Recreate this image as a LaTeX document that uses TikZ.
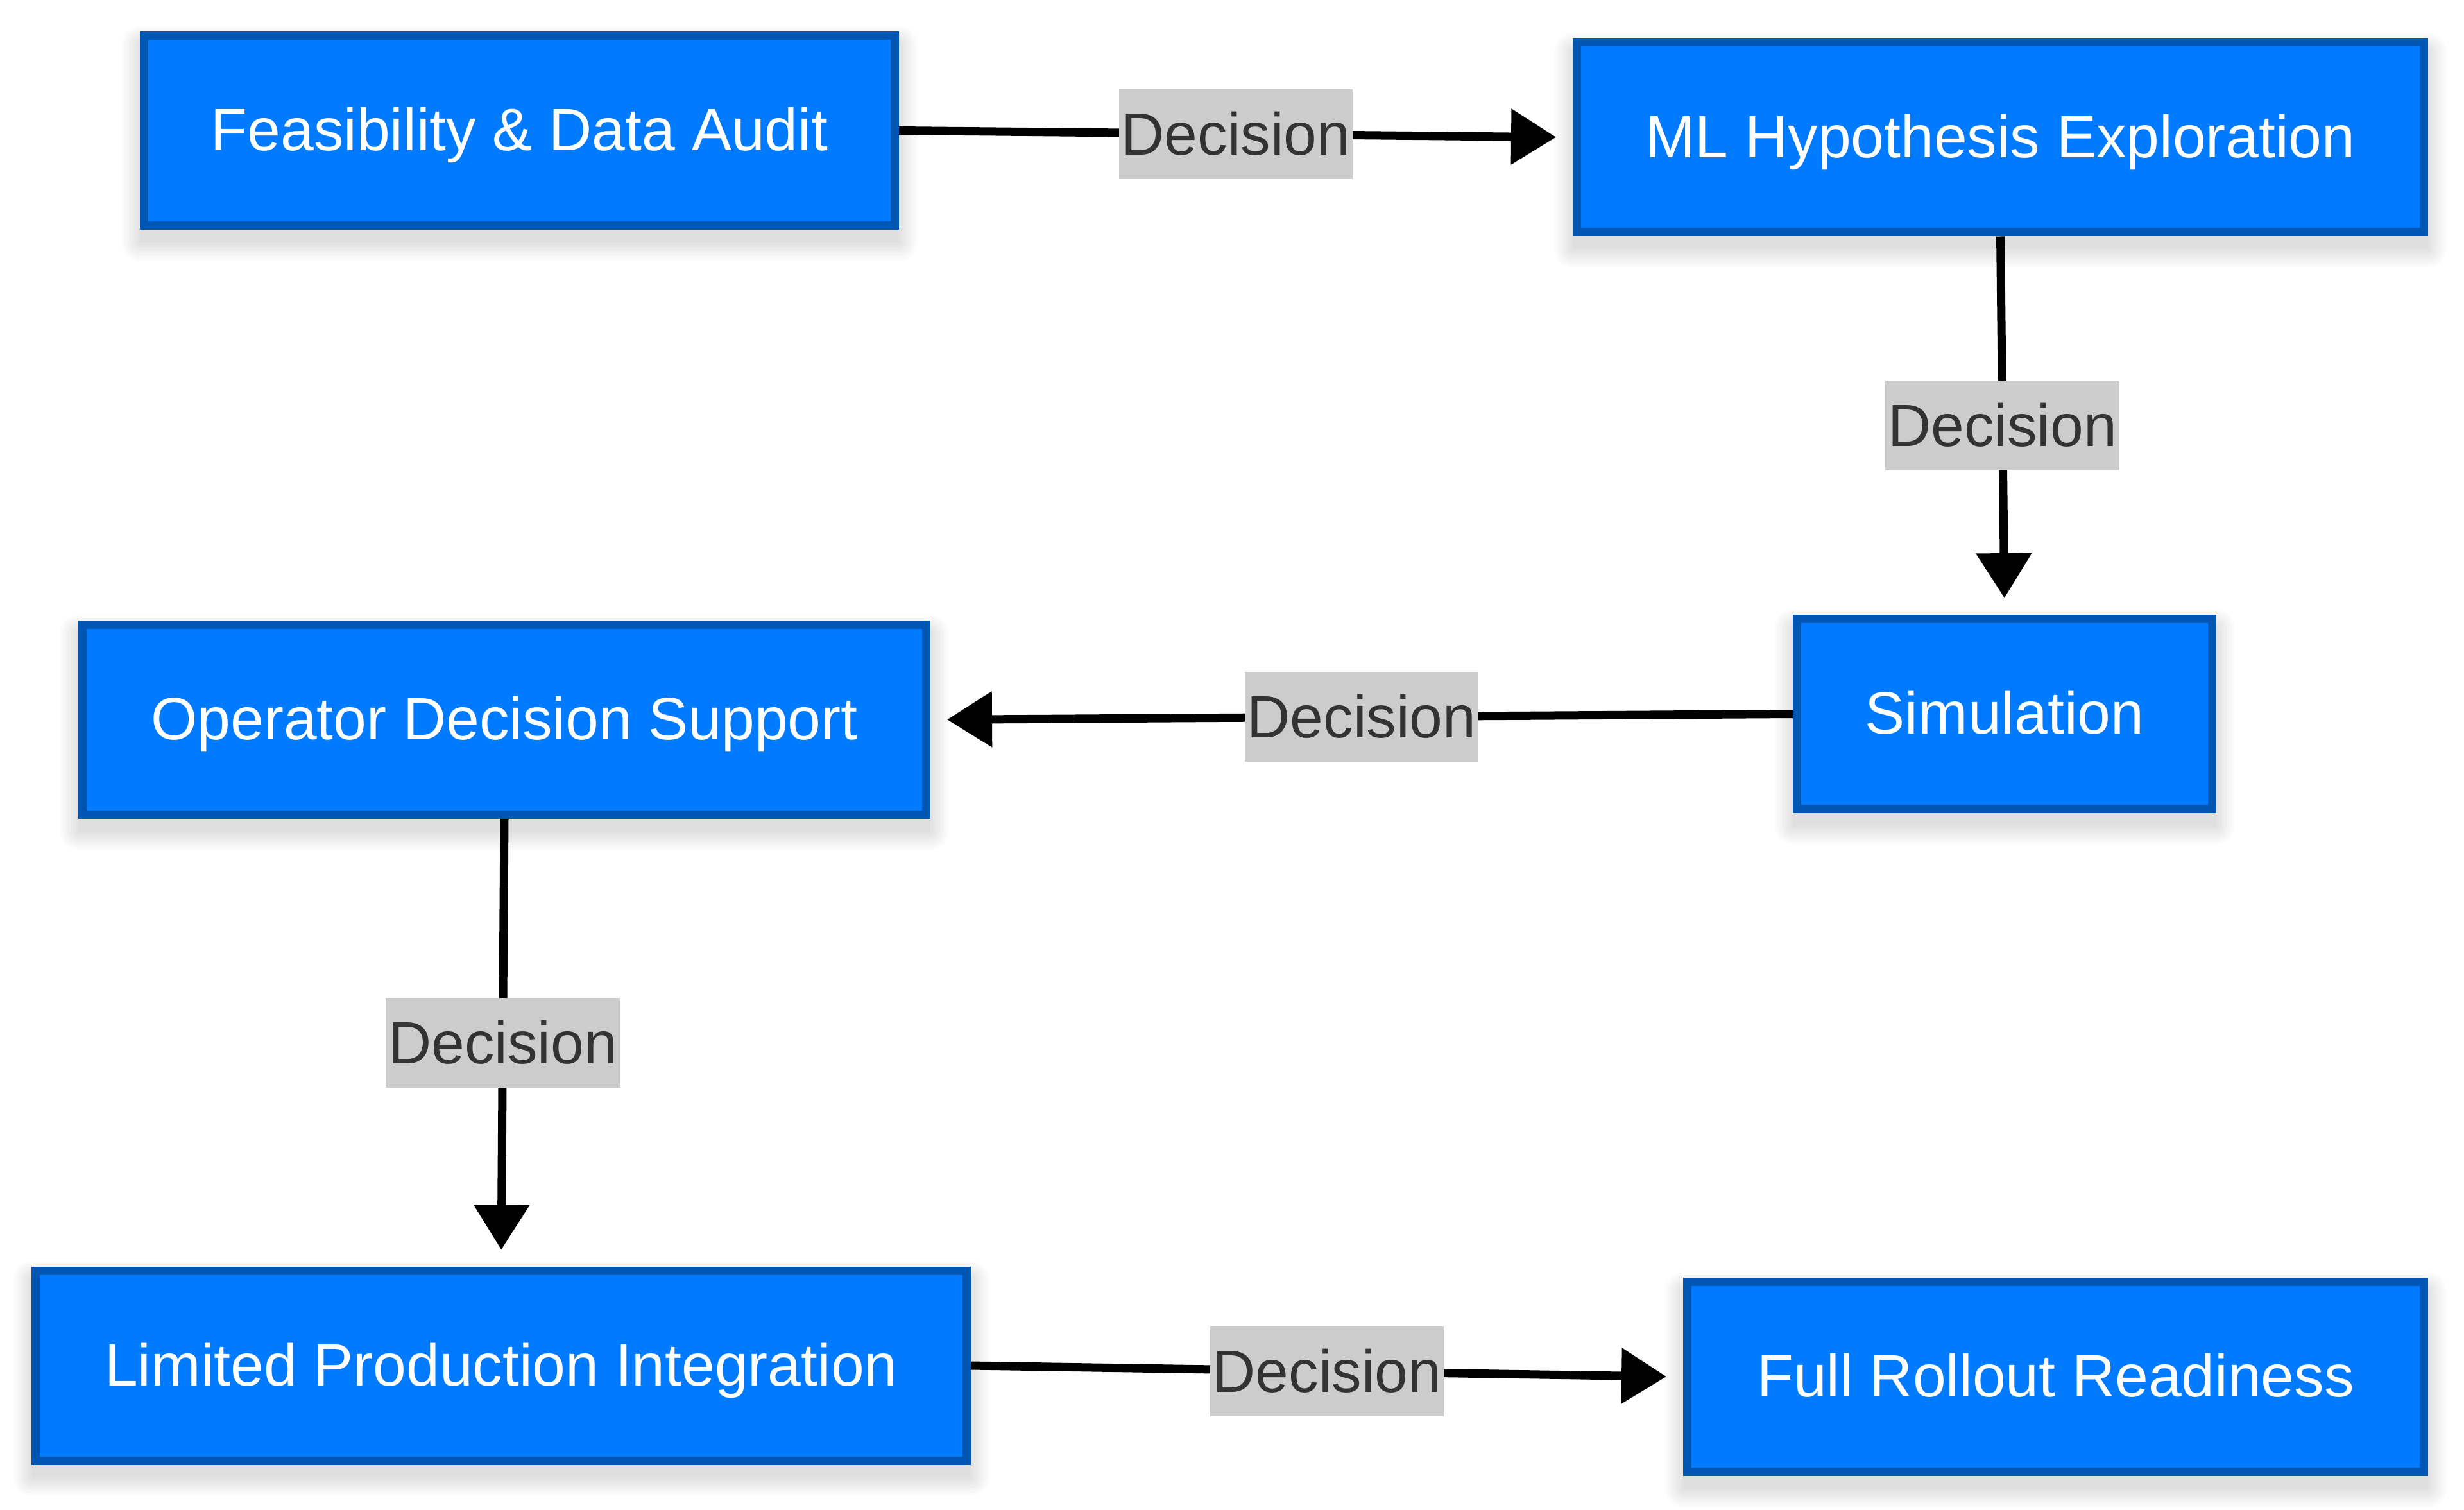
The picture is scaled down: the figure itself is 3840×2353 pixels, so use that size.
\documentclass[tikz,border=0pt]{standalone}
\usepackage{fontspec}
\setmainfont{Liberation Sans}
\usetikzlibrary{arrows.meta,calc,backgrounds}
\definecolor{boxfill}{HTML}{007BFF}
\definecolor{boxline}{HTML}{0056B3}
\definecolor{lblfill}{HTML}{CCCCCC}
\definecolor{lbltext}{HTML}{333333}
\tikzset{
  stagebox/.style={draw=boxline, line width=3.25pt, fill=boxfill, text=white,
    minimum height=74pt, inner sep=0pt, font=\fontsize{23.25}{28}\selectfont,
    text height=16.7pt, text depth=1pt},
  flow/.style={draw=black, line width=3.25pt,
    -{Triangle[length=17.5pt,width=21pt]}, shorten >=6.5pt},
  lbl/.style={fill=lblfill, text=lbltext, inner xsep=1pt, inner ysep=0pt,
    minimum height=35pt, font=\fontsize{23.25}{28}\selectfont,
    text height=16.7pt, text depth=0.5pt}
}
\begin{document}
\begin{tikzpicture}[x=0.25pt,y=-0.25pt]
\useasboundingbox (0,0) rectangle (3840,2353);
\node[stagebox, minimum width=292.5pt] (b1) at (809.5,203.5) {Feasibility \& Data Audit};
\node[stagebox, minimum width=330pt] (b2) at (3117.5,214) {ML Hypothesis Exploration};
\node[stagebox, minimum width=161.75pt] (b3) at (3124,1112.5) {Simulation};
\node[stagebox, minimum width=328.75pt] (b4) at (786,1121.5) {Operator Decision Support};
\node[stagebox, minimum width=362.75pt] (b5) at (781,2128) {Limited Production Integration};
\node[stagebox, minimum width=287pt] (b6) at (3203.5,2145.5) {Full Rollout Readiness};
\begin{scope}[on background layer]
\foreach \n in {b1,b2,b3,b4,b5,b6}{
  \foreach \k in {0,1,...,7}{
    \fill[black, opacity=0.016, rounded corners=\k pt]
      ($(\n.south west)+(-\k pt,-\k pt-5pt)$) rectangle ($(\n.north east)+(\k pt,\k pt-5pt)$);
  }
}
\end{scope}
\draw[flow] (b1.east) -- node[lbl, midway] (l1) {Decision} (b2.west);
\draw[flow] (b2.south) -- node[lbl, midway] (l2) {Decision} (b3.north);
\draw[flow] (b3.west) -- node[lbl, midway] (l3) {Decision} (b4.east);
\draw[flow] (b4.south) -- node[lbl, midway] (l4) {Decision} (b5.north);
\draw[flow] (b5.east) -- node[lbl, midway] (l5) {Decision} (b6.west);
\end{tikzpicture}
\end{document}
